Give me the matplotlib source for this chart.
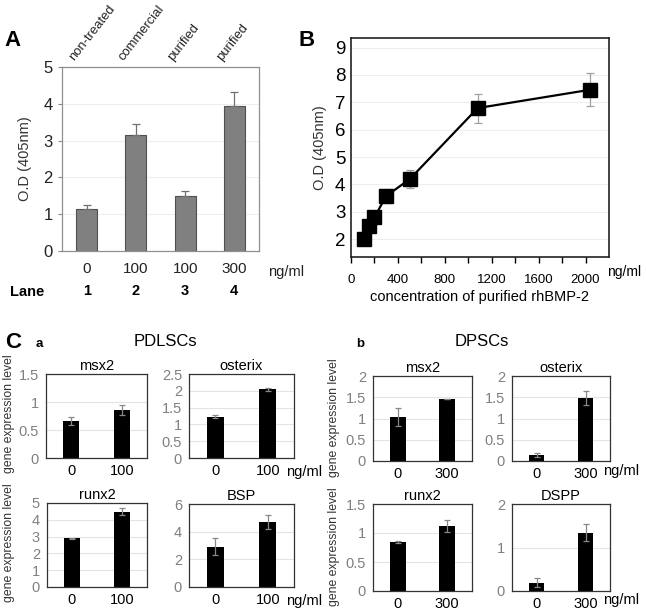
import matplotlib
matplotlib.use("Agg")
import matplotlib.pyplot as plt
import numpy as np

plt.rcParams["font.family"] = ["Liberation Sans", "DejaVu Sans"]

# ---------------------------------------------------------------------------
# Panel A data
# ---------------------------------------------------------------------------
a_treat = ["non-treated", "commercial", "purified", "purified"]
a_dose = ["0", "100", "100", "300"]
a_lane = ["1", "2", "3", "4"]
a_od = [1.13, 3.16, 1.49, 3.93]
a_err = [0.12, 0.30, 0.14, 0.40]

# ---------------------------------------------------------------------------
# Panel B data
# ---------------------------------------------------------------------------
b_conc = [110, 155, 200, 300, 500, 1080, 2040]
b_od = [2.0, 2.48, 2.8, 3.58, 4.19, 6.79, 7.46]
b_err = [0.0, 0.0, 0.0, 0.27, 0.32, 0.53, 0.60]

# ---------------------------------------------------------------------------
# Panel C data (gene expression)
# ---------------------------------------------------------------------------
pdl_genes = ["msx2", "osterix", "runx2", "BSP"]
pdl_dose = ["0", "100"]
pdl_vals = [[0.66, 0.86], [1.23, 2.04], [2.90, 4.48], [2.92, 4.69]]
pdl_errs = [[0.07, 0.09], [0.05, 0.04], [0.03, 0.20], [0.60, 0.53]]
pdl_ylims = [1.5, 2.5, 5, 6]
pdl_ysteps = [0.5, 0.5, 1, 2]

dp_genes = ["msx2", "osterix", "runx2", "DSPP"]
dp_dose = ["0", "300"]
dp_vals = [[1.04, 1.46], [0.14, 1.48], [0.84, 1.12], [0.19, 1.34]]
dp_errs = [[0.21, 0.01], [0.04, 0.17], [0.02, 0.11], [0.10, 0.20]]
dp_ylims = [2, 2, 1.5, 2]
dp_ysteps = [0.5, 0.5, 0.5, 1]

W, H = 646, 610
fig = plt.figure(figsize=(W / 100, H / 100), dpi=100)


def rect(x0, x1, ytop, ybot):
    return [x0 / W, 1 - ybot / H, (x1 - x0) / W, (ybot - ytop) / H]


def ftext(x, y, s, **kw):
    fig.text(x / W, 1 - y / H, s, **kw)


# ---------------------------------------------------------------------------
# Panel A
# ---------------------------------------------------------------------------
ax = fig.add_axes(rect(62, 259, 67, 251))
xa = np.arange(len(a_od))
ax.bar(xa, a_od, width=0.43, color="#808080", edgecolor="#505050", linewidth=0.8, zorder=2)
ax.errorbar(xa, a_od, yerr=[np.zeros(len(a_err)), a_err], fmt="none",
            ecolor="#707070", elinewidth=0.9, capsize=3, capthick=0.9, zorder=3)
ax.set_xlim(-0.5, 3.5)
ax.set_ylim(0, 5)
ax.set_yticks(range(0, 6))
ax.yaxis.grid(True, color="#eeeeee", linewidth=0.8, zorder=0)
ax.set_xticks(xa)
ax.set_xticklabels(a_dose, fontsize=11, color="#222222")
ax.tick_params(axis="x", length=0, pad=8)
ax.tick_params(axis="y", labelsize=12, length=3, color="#888888", labelcolor="#222222")
for s in ax.spines.values():
    s.set_color("#909090")
    s.set_linewidth(0.9)
ax.set_ylabel("O.D (405nm)", fontsize=10.5, color="#333333", labelpad=8)
# treatment names above the bars
for i, t in enumerate(a_treat):
    ax.text(i - 0.2, 5.12, t, rotation=52, rotation_mode="anchor", ha="left", va="bottom",
            fontsize=9.4, color="#222222", clip_on=False)
ftext(268, 272, "ng/ml", fontsize=10.5, va="center", color="#222222")
ftext(10, 292, "Lane", fontsize=10.5, va="center", fontweight="bold")
for i, ln in enumerate(a_lane):
    ax.text(i, -0.22, ln, transform=ax.get_xaxis_transform(), ha="center", va="center",
            fontsize=10.5, fontweight="bold")
ftext(4, 40, "A", fontsize=16, fontweight="bold", va="center")

# ---------------------------------------------------------------------------
# Panel B
# ---------------------------------------------------------------------------
bx = fig.add_axes(rect(351, 609, 38, 257))
bx.errorbar(b_conc, b_od, yerr=b_err, fmt="none", ecolor="#a0a0a0", elinewidth=0.9,
            capsize=3, capthick=0.9, zorder=2)
bx.plot(b_conc, b_od, color="black", linewidth=1.6, marker="s", markersize=10.5, zorder=3)
bx.set_xlim(0, 2200)
bx.set_ylim(1.35, 9.35)
bx.set_yticks(range(2, 10))
bx.set_xticks(range(200, 2200, 200), minor=True)
bx.set_xticks(range(0, 2001, 400))
bx.yaxis.grid(True, color="#eeeeee", linewidth=0.8, zorder=0)
bx.tick_params(axis="y", labelsize=13.5, length=0, pad=4)
bx.tick_params(axis="x", which="both", direction="out", length=4, width=1, labelsize=9.5, pad=8)
for s in bx.spines.values():
    s.set_linewidth(1.2)
    s.set_color("#222222")
bx.set_xlabel("concentration of purified rhBMP-2", fontsize=10.5, labelpad=3)
bx.set_ylabel("O.D (405nm)", fontsize=10.5, color="#333333", labelpad=6)
ftext(607, 272, "ng/ml", fontsize=10, va="center")
ftext(298, 40, "B", fontsize=16, fontweight="bold", va="center")

# ---------------------------------------------------------------------------
# Panel C
# ---------------------------------------------------------------------------
pdl_rects = [(46, 147, 374, 458), (189, 294, 374, 458), (47, 147, 503, 587), (189, 294, 504, 587)]
dp_rects = [(373, 472, 376, 461), (512, 610, 376, 461), (373, 472, 504, 591), (512, 610, 504, 591)]


def gene_panel(r, name, vals, errs, ytop, ystep, doses):
    cx = fig.add_axes(rect(*r))
    xc = np.arange(len(vals))
    cx.bar(xc, vals, width=0.32, color="black", zorder=2)
    cx.errorbar(xc, vals, yerr=errs, fmt="none", ecolor="#888888", elinewidth=0.9,
                capsize=2.5, capthick=0.9, zorder=3)
    cx.set_xlim(-0.5, 1.5)
    cx.set_ylim(0, ytop)
    yt = np.arange(0, ytop + 1e-9, ystep)
    cx.set_yticks(yt)
    cx.set_yticklabels([("%g" % v) for v in yt])
    cx.yaxis.grid(True, color="#e4e4e4", linewidth=0.8, zorder=0)
    cx.set_xticks(xc)
    cx.set_xticklabels(doses)
    cx.tick_params(axis="x", length=0, labelsize=10.5, pad=4)
    cx.tick_params(axis="y", length=0, labelsize=10.5, labelcolor="#808080", pad=5)
    for s in cx.spines.values():
        s.set_color("#333333")
        s.set_linewidth(0.9)
    cx.set_title(name, fontsize=10.5, pad=3)
    return cx


for i in range(4):
    gene_panel(pdl_rects[i], pdl_genes[i], pdl_vals[i], pdl_errs[i],
               pdl_ylims[i], pdl_ysteps[i], pdl_dose)
    gene_panel(dp_rects[i], dp_genes[i], dp_vals[i], dp_errs[i],
               dp_ylims[i], dp_ysteps[i], dp_dose)

for (x, y) in [(9, 414), (9, 543), (334, 418), (334, 547)]:
    ftext(x, y, "gene expression level", rotation=90, fontsize=8.8, ha="center", va="center",
          color="#333333")
for (x, y) in [(286, 472), (286, 601), (603, 471), (603, 600)]:
    ftext(x, y, "ng/ml", fontsize=10.5, va="center")

ftext(5, 342, "C", fontsize=16, fontweight="bold", va="center")
ftext(36, 344, "a", fontsize=9.5, fontweight="bold", va="center")
ftext(165, 342, "PDLSCs", fontsize=12, ha="center", va="center")
ftext(356, 344, "b", fontsize=9.5, fontweight="bold", va="center")
ftext(482, 342, "DPSCs", fontsize=12, ha="center", va="center")

fig.savefig("out.png", dpi=100)
